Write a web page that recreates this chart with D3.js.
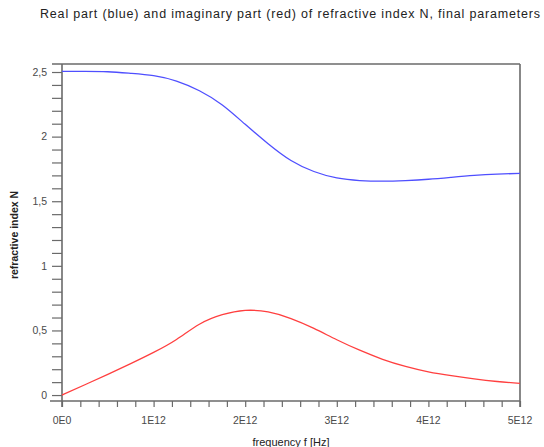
<!DOCTYPE html>
<html>
<head>
<meta charset="utf-8">
<script src="https://cdn.jsdelivr.net/npm/d3@7/dist/d3.min.js"></script>
<style>
  html, body { margin: 0; padding: 0; background: #fff; }
  svg { display: block; font-family: "Liberation Sans", Arial, sans-serif; }
</style>
</head>
<body>
<svg id="chart" width="544" height="447"></svg>
<script>
// Frequency samples in units of 1E12 Hz
const freq = [0, 0.25, 0.5, 0.75, 1.0, 1.25, 1.5, 1.75, 2.0, 2.25, 2.5,
              2.75, 3.0, 3.25, 3.5, 3.75, 4.0, 4.25, 4.5, 4.75, 5.0];
// Real part of the refractive index
const realN = [2.505, 2.505, 2.502, 2.49, 2.472, 2.43, 2.355, 2.245, 2.095, 1.945, 1.815,
               1.73, 1.68, 1.66, 1.655, 1.66, 1.67, 1.685, 1.70, 1.71, 1.716];
// Imaginary part of the refractive index
const imagN = [0, 0.08, 0.16, 0.243, 0.33, 0.43, 0.548, 0.622, 0.655, 0.643, 0.592,
               0.516, 0.428, 0.347, 0.277, 0.222, 0.18, 0.15, 0.125, 0.105, 0.09];

const xMajor = [0, 1, 2, 3, 4, 5];
const xLabels = ["0E0", "1E12", "2E12", "3E12", "4E12", "5E12"];
const yMajor = [0, 0.5, 1, 1.5, 2, 2.5];
const yLabels = ["0", "0,5", "1", "1,5", "2", "2,5"];

const svg = d3.select("#chart");
const plotLeft = 62, plotRight = 520, plotTop = 64, plotBottom = 401;

const x = d3.scaleLinear().domain([0, 5]).range([plotLeft, plotRight]);
const y = d3.scaleLinear().domain([-0.046, 2.562]).range([plotBottom, plotTop]);

const axisColor = "#6a6a6a";
const textColor = "#4a4a4a";

// Title
svg.append("text")
  .attr("x", 290).attr("y", 18)
  .attr("text-anchor", "middle")
  .attr("font-size", 12.5)
  .attr("textLength", 500)
  .attr("lengthAdjust", "spacing")
  .attr("fill", "#222")
  .text("Real part (blue) and imaginary part (red) of refractive index N, final parameters");

// X axis (bottom) with minor ticks every 0.2E12
const xAxis = d3.axisBottom(x)
  .tickValues(d3.range(0, 5.0001, 0.2))
  .tickSize(6)
  .tickFormat("");
const gx = svg.append("g").attr("transform", `translate(0,${plotBottom})`).call(xAxis);
gx.select(".domain").remove();
gx.selectAll("line").attr("stroke", axisColor).attr("stroke-width", 1.2);

svg.append("g").selectAll("text")
  .data(xMajor)
  .join("text")
  .attr("x", d => x(d))
  .attr("y", 424)
  .attr("text-anchor", "middle")
  .attr("font-size", 10.5)
  .attr("fill", textColor)
  .text((d, i) => xLabels[i]);

// Y axis (left) with minor ticks every 0.1
const yAxis = d3.axisLeft(y)
  .tickValues(d3.range(0, 2.5001, 0.1))
  .tickSize(10)
  .tickFormat("");
const gy = svg.append("g").attr("transform", `translate(${plotLeft},0)`).call(yAxis);
gy.select(".domain").remove();
gy.selectAll("line").attr("stroke", axisColor).attr("stroke-width", 1.2);

svg.append("g").selectAll("text")
  .data(yMajor)
  .join("text")
  .attr("x", 47)
  .attr("y", d => y(d) + 3.8)
  .attr("text-anchor", "end")
  .attr("font-size", 10.5)
  .attr("fill", textColor)
  .text((d, i) => yLabels[i]);

// Plot frame; top and bottom edges run a little past the left axis
const frame = svg.append("g")
  .attr("stroke", axisColor).attr("stroke-width", 1.6).attr("fill", "none");
frame.append("line").attr("x1", 52).attr("x2", plotRight).attr("y1", plotTop).attr("y2", plotTop);
frame.append("line").attr("x1", 50).attr("x2", plotRight).attr("y1", plotBottom).attr("y2", plotBottom);
frame.append("line").attr("x1", plotLeft).attr("x2", plotLeft).attr("y1", plotTop).attr("y2", plotBottom + 6);
frame.append("line").attr("x1", plotRight).attr("x2", plotRight).attr("y1", plotTop).attr("y2", plotBottom + 6);

// Axis titles
svg.append("text")
  .attr("transform", "translate(18,235) rotate(-90)")
  .attr("text-anchor", "middle")
  .attr("font-size", 10.5)
  .attr("font-weight", "bold")
  .attr("fill", "#222")
  .text("refractive index N");

svg.append("text")
  .attr("x", 291).attr("y", 446)
  .attr("text-anchor", "middle")
  .attr("font-size", 11)
  .attr("fill", "#222")
  .text("frequency f [Hz]");

// Curves
const line = (vals) => d3.line()
  .x((d, i) => x(freq[i]))
  .y(d => y(d))
  .curve(d3.curveNatural)(vals);

svg.append("path")
  .attr("d", line(realN))
  .attr("fill", "none")
  .attr("stroke", "#4f4fff")
  .attr("stroke-width", 1.3);

svg.append("path")
  .attr("d", line(imagN))
  .attr("fill", "none")
  .attr("stroke", "#ff3f3f")
  .attr("stroke-width", 1.3);
</script>
</body>
</html>
